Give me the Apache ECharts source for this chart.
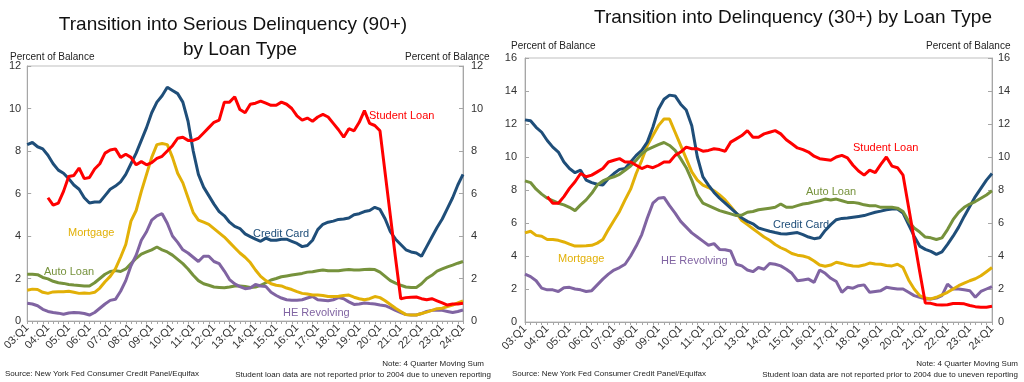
<!DOCTYPE html>
<html><head><meta charset="utf-8">
<script src="https://cdn.jsdelivr.net/npm/echarts@6/dist/echarts.min.js"></script>
<style>html,body{margin:0;padding:0;background:#fff}#c{width:1024px;height:382px}</style>
</head><body><div id="c"></div>
<script>
// Categories 03:Q1 .. 24:Q1
var quarters = [];
for (var y = 3; y <= 24; y++) { for (var q = 1; q <= 4; q++) { if (y === 24 && q > 1) break; quarters.push((y < 10 ? '0' + y : '' + y) + ':Q' + q); } }

// ---- Left panel: Transition into Serious Delinquency (90+) ----
var sd_creditCard = [8.3,8.4,8.2,8.1,7.8,7.4,7.1,6.95,6.7,6.4,6.2,5.8,5.55,5.6,5.6,5.9,6.2,6.35,6.55,6.9,7.4,7.9,8.5,9.1,9.8,10.3,10.6,11.0,10.85,10.7,10.3,9.4,8.0,6.9,6.3,5.9,5.5,5.15,4.95,4.65,4.45,4.35,4.1,3.97,3.85,3.75,3.9,3.8,3.8,3.85,3.85,3.75,3.65,3.5,3.55,3.8,4.3,4.55,4.65,4.7,4.78,4.8,4.85,5.0,5.05,5.15,5.2,5.35,5.25,4.8,4.2,3.85,3.6,3.35,3.25,3.2,3.05,3.5,3.95,4.4,4.8,5.3,5.8,6.4,6.9];
var sd_studentLoan = [null,null,null,null,5.8,5.45,5.55,6.1,6.8,6.85,7.2,6.7,6.75,7.15,7.4,7.9,8.05,8.1,7.7,7.85,7.7,7.35,7.5,7.35,7.45,7.65,7.75,8.0,8.25,8.6,8.65,8.5,8.5,8.6,8.85,9.1,9.35,9.45,10.3,10.3,10.55,9.95,9.8,10.2,10.25,10.35,10.25,10.15,10.15,10.3,10.2,10.0,9.65,9.45,9.55,9.4,9.6,9.72,9.6,9.3,9.0,8.65,9.05,8.95,9.35,9.9,9.3,9.2,8.95,6.95,4.95,2.95,1.05,1.1,1.12,1.13,1.05,1.0,1.05,0.95,0.85,0.75,0.8,0.8,0.83];
var sd_mortgage = [1.45,1.5,1.48,1.35,1.3,1.37,1.38,1.38,1.4,1.35,1.3,1.32,1.3,1.35,1.55,1.85,2.1,2.45,3.0,3.6,4.7,5.2,6.1,6.9,7.7,8.3,8.35,8.3,7.7,6.95,6.5,5.8,5.1,4.75,4.65,4.55,4.35,4.15,3.95,3.7,3.45,3.2,3.0,2.75,2.4,2.1,1.9,1.75,1.68,1.65,1.55,1.48,1.38,1.3,1.27,1.22,1.22,1.2,1.15,1.15,1.17,1.2,1.22,1.12,1.05,1.0,1.05,1.15,1.1,0.95,0.78,0.6,0.45,0.3,0.28,0.28,0.35,0.42,0.5,0.58,0.6,0.68,0.75,0.85,0.95];
var sd_autoLoan = [2.2,2.2,2.18,2.05,1.98,1.87,1.8,1.77,1.72,1.69,1.67,1.65,1.65,1.8,2.0,2.2,2.33,2.37,2.33,2.45,2.7,2.95,3.15,3.25,3.35,3.48,3.35,3.25,3.1,2.9,2.7,2.45,2.15,1.9,1.75,1.68,1.6,1.58,1.56,1.6,1.65,1.65,1.62,1.58,1.6,1.68,1.8,1.93,2.0,2.08,2.12,2.16,2.2,2.24,2.3,2.32,2.36,2.4,2.37,2.37,2.37,2.4,2.42,2.4,2.4,2.42,2.43,2.42,2.3,2.1,1.9,1.78,1.68,1.6,1.58,1.58,1.75,2.0,2.15,2.35,2.45,2.55,2.63,2.72,2.8];
var sd_heRevolving = [0.83,0.8,0.72,0.55,0.45,0.4,0.37,0.32,0.38,0.4,0.39,0.35,0.28,0.4,0.6,0.8,0.97,1.02,1.4,1.9,2.6,3.1,3.8,4.2,4.75,4.95,5.05,4.6,4.0,3.7,3.35,3.2,3.0,2.8,3.05,3.05,2.8,2.7,2.35,1.95,1.75,1.62,1.52,1.55,1.72,1.65,1.62,1.35,1.2,1.08,1.0,0.98,0.98,1.0,1.08,1.15,1.0,0.98,0.95,1.0,1.1,1.05,0.9,0.78,0.8,0.85,0.82,0.8,0.75,0.72,0.62,0.5,0.4,0.3,0.28,0.28,0.35,0.45,0.5,0.52,0.5,0.45,0.4,0.45,0.52];

// ---- Right panel: Transition into Delinquency (30+) ----
var d_creditCard = [12.25,12.2,11.8,11.5,11.0,10.6,10.3,9.7,9.3,9.05,9.2,8.6,8.45,8.35,8.3,8.7,9.0,9.25,9.3,9.7,10.1,10.4,10.9,11.8,12.9,13.5,13.75,13.7,13.2,12.85,11.9,10.0,8.8,8.3,7.85,7.5,7.2,6.9,6.6,6.3,6.1,5.95,5.7,5.6,5.5,5.42,5.35,5.33,5.38,5.42,5.3,5.15,5.05,5.1,5.55,5.9,6.2,6.28,6.3,6.35,6.4,6.45,6.55,6.65,6.72,6.8,6.85,6.85,6.6,5.9,5.2,4.6,4.4,4.28,4.1,4.25,4.7,5.2,5.75,6.4,7.0,7.6,8.1,8.6,9.0];
var d_studentLoan = [null,null,null,null,7.6,7.2,7.2,7.6,8.1,8.5,9.0,8.8,8.9,9.1,9.3,9.7,9.8,9.9,9.7,9.7,9.5,9.3,9.45,9.35,9.5,9.7,9.7,10.1,10.3,10.6,10.5,10.5,10.35,10.4,10.5,10.45,10.35,10.9,11.1,11.3,11.6,11.2,11.2,11.4,11.5,11.6,11.4,11.05,10.8,10.55,10.45,10.3,10.05,9.9,9.85,9.8,10.0,10.1,9.95,9.5,9.15,8.9,9.2,9.05,9.55,10.0,9.45,9.35,8.9,6.95,5.0,3.05,1.15,1.13,1.05,1.03,1.05,1.12,1.12,1.1,1.0,0.93,0.9,0.9,0.95];
var d_mortgage = [5.4,5.5,5.25,5.2,5.0,5.0,4.95,4.85,4.72,4.6,4.6,4.62,4.65,4.78,5.0,5.6,6.15,6.7,7.4,8.05,9.0,9.8,10.7,11.3,11.9,12.3,12.3,11.5,10.7,9.9,9.1,8.6,8.3,8.15,7.95,7.7,7.4,7.0,6.6,6.15,5.9,5.65,5.4,5.15,4.95,4.7,4.5,4.35,4.15,4.05,4.0,3.9,3.7,3.45,3.38,3.45,3.62,3.55,3.45,3.4,3.38,3.45,3.57,3.52,3.5,3.42,3.4,3.5,3.3,2.55,2.0,1.6,1.45,1.4,1.5,1.65,1.8,2.0,2.2,2.35,2.5,2.62,2.8,3.05,3.3];
var d_autoLoan = [8.55,8.45,8.05,7.75,7.5,7.35,7.2,7.1,6.95,6.75,7.1,7.4,7.8,8.3,8.55,8.7,8.8,8.95,9.2,9.45,9.8,10.2,10.45,10.6,10.75,10.88,10.7,10.4,9.9,9.35,8.6,7.7,7.2,7.05,6.9,6.75,6.65,6.55,6.45,6.48,6.65,6.7,6.8,6.85,6.9,6.95,7.15,6.95,6.95,7.05,7.15,7.2,7.28,7.35,7.45,7.4,7.45,7.35,7.25,7.25,7.2,7.1,7.05,7.05,6.95,6.95,6.95,6.9,6.7,6.1,5.7,5.45,5.15,5.1,5.0,5.1,5.6,6.2,6.65,6.95,7.15,7.3,7.5,7.7,7.95];
var d_heRevolving = [2.9,2.75,2.5,2.05,1.95,1.95,1.85,2.08,2.1,2.0,1.95,1.85,1.9,2.25,2.6,2.9,3.15,3.3,3.5,4.0,4.6,5.3,6.3,7.2,7.5,7.55,7.05,6.6,6.1,5.75,5.4,5.15,4.9,4.65,4.75,4.4,4.38,4.3,3.5,3.4,3.15,3.05,3.3,3.2,3.55,3.5,3.4,3.2,2.95,2.5,2.55,2.6,2.4,3.15,2.95,2.65,2.45,1.8,2.1,2.05,2.2,2.25,1.8,1.85,1.9,2.1,2.05,2.0,2.0,1.8,1.6,1.5,1.4,1.4,1.45,1.6,2.3,2.0,2.0,1.95,1.9,1.5,1.85,2.0,2.15];

var yTicksLeft = {min: 0, max: 12, interval: 2};
var yTicksRight = {min: 0, max: 16, interval: 2};

var COL = {cc: '#1F4E79', sl: '#FF0000', mo: '#E2B007', al: '#76923C', he: '#8064A2'};
var FONT = 'Liberation Sans, Arial, sans-serif';
var AX = '#a6a6a6';

function xAxisCfg(gi) {
  return {type: 'category', gridIndex: gi, data: quarters, boundaryGap: false,
    axisLine: {lineStyle: {color: AX, width: 1}},
    axisTick: {show: true, interval: 0, length: 3, lineStyle: {color: AX}},
    axisLabel: {interval: 3, rotate: 45, fontSize: 11, color: '#333', margin: 5, fontFamily: FONT},
    splitLine: {show: false}};
}
function yAxisCfg(gi, t, pos, margin) {
  return {type: 'value', gridIndex: gi, min: t.min, max: t.max, interval: t.interval, position: pos,
    axisLine: {show: true, lineStyle: {color: AX}},
    axisTick: {show: true, inside: true, length: 4, lineStyle: {color: AX}},
    axisLabel: {fontSize: 11, color: '#333', margin: margin, fontFamily: FONT},
    splitLine: {show: false}};
}
function line(name, data, color, xi, yi) {
  return {name: name, type: 'line', data: data, xAxisIndex: xi, yAxisIndex: yi, showSymbol: false, symbol: 'none',
    lineStyle: {color: color, width: 3}, itemStyle: {color: color}, connectNulls: false, animation: false, z: 3};
}
function txt(x, y, s, color, size, align) {
  return {type: 'text', x: x, y: y, z: 10, style: {text: s, fill: color, font: size + 'px ' + FONT, textAlign: align || 'left', textVerticalAlign: 'middle'}};
}

var chart = echarts.init(document.getElementById('c'), null, {renderer: 'canvas'});
chart.setOption({
  animation: false,
  backgroundColor: '#fff',
  grid: [
    {left: 22, right: 561, top: 66, bottom: 61, show: true, borderColor: '#bfbfbf', borderWidth: 1, backgroundColor: 'transparent'},
    {left: 525, right: 32, top: 58, bottom: 60, show: true, borderColor: '#bfbfbf', borderWidth: 1, backgroundColor: 'transparent'}
  ],
  xAxis: [xAxisCfg(0), xAxisCfg(1)],
  yAxis: [yAxisCfg(0, yTicksLeft, 'left', 6), yAxisCfg(0, yTicksLeft, 'right', 8), yAxisCfg(1, yTicksRight, 'left', 8), yAxisCfg(1, yTicksRight, 'right', 6)],
  series: [
    line('Auto Loan', sd_autoLoan, COL.al, 0, 0),
    line('HE Revolving', sd_heRevolving, COL.he, 0, 0),
    line('Mortgage', sd_mortgage, COL.mo, 0, 0),
    line('Credit Card', sd_creditCard, COL.cc, 0, 0),
    line('Student Loan', sd_studentLoan, COL.sl, 0, 0),
    line('HE Revolving', d_heRevolving, COL.he, 1, 2),
    line('Mortgage', d_mortgage, COL.mo, 1, 2),
    line('Credit Card', d_creditCard, COL.cc, 1, 2),
    line('Auto Loan', d_autoLoan, COL.al, 1, 2),
    line('Student Loan', d_studentLoan, COL.sl, 1, 2)
  ],
  graphic: [
    txt(233, 25, 'Transition into Serious Delinquency (90+)', '#111', 19, 'center'),
    txt(240, 50, 'by Loan Type', '#111', 19, 'center'),
    txt(793, 18, 'Transition into Delinquency (30+) by Loan Type', '#111', 19, 'center'),
    txt(10, 57, 'Percent of Balance', '#222', 10),
    txt(405, 57, 'Percent of Balance', '#222', 10),
    txt(511, 46, 'Percent of Balance', '#222', 10),
    txt(926, 46, 'Percent of Balance', '#222', 10),
    txt(369, 116, 'Student Loan', COL.sl, 11),
    txt(68, 233, 'Mortgage', COL.mo, 11),
    txt(253, 234, 'Credit Card', COL.cc, 11),
    txt(44, 272, 'Auto Loan', COL.al, 11),
    txt(283, 313, 'HE Revolving', COL.he, 11),
    txt(853, 148, 'Student Loan', COL.sl, 11),
    txt(806, 192, 'Auto Loan', COL.al, 11),
    txt(773, 225, 'Credit Card', COL.cc, 11),
    txt(558, 259, 'Mortgage', COL.mo, 11),
    txt(661, 261, 'HE Revolving', COL.he, 11),
    txt(5, 374, 'Source: New York Fed Consumer Credit Panel/Equifax', '#222', 8),
    txt(484, 364, 'Note: 4 Quarter Moving Sum', '#222', 8, 'right'),
    txt(491, 375, 'Student loan data are not reported prior to 2004 due to uneven reporting', '#222', 8, 'right'),
    txt(512, 374, 'Source: New York Fed Consumer Credit Panel/Equifax', '#222', 8),
    txt(1018, 364, 'Note: 4 Quarter Moving Sum', '#222', 8, 'right'),
    txt(1018, 375, 'Student loan data are not reported prior to 2004 due to uneven reporting', '#222', 8, 'right')
  ]
});
</script></body></html>
